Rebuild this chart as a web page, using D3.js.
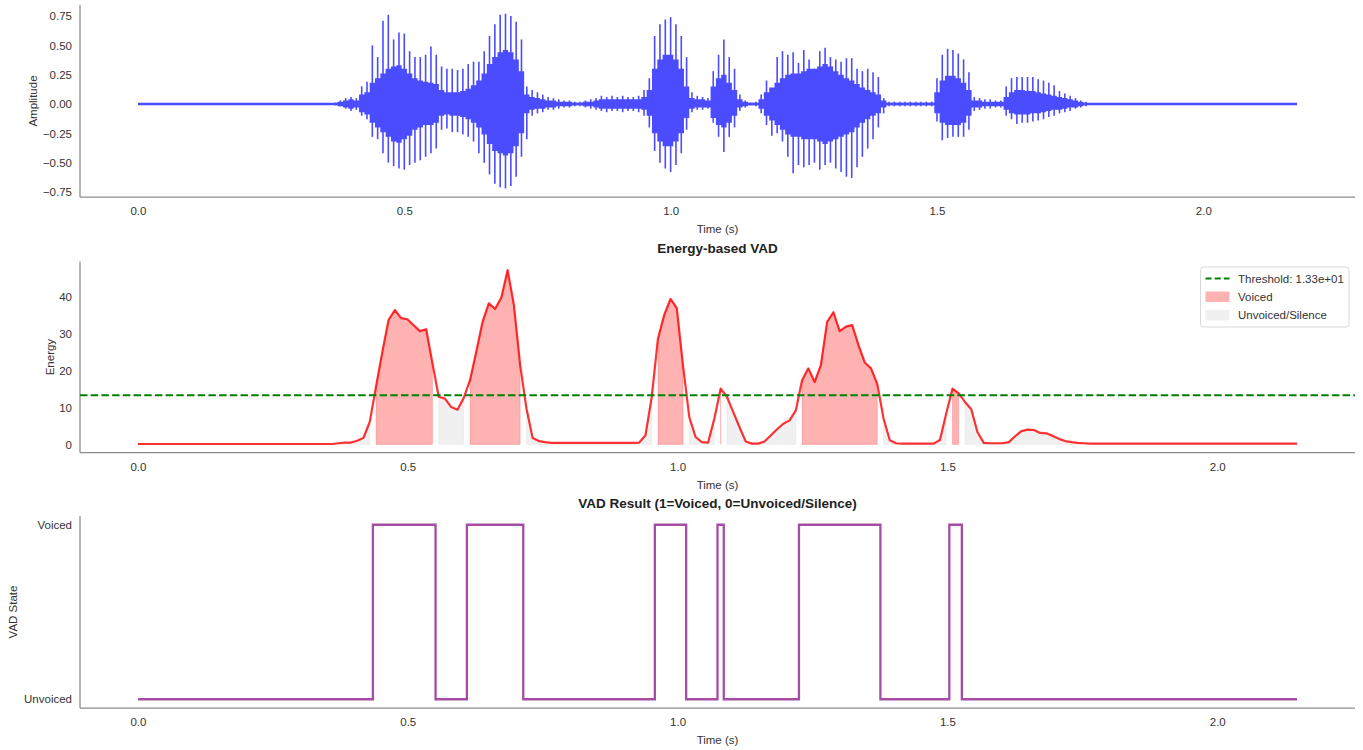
<!DOCTYPE html>
<html><head><meta charset="utf-8">
<script src="https://cdn.jsdelivr.net/npm/d3@7"></script>
<style>
body{margin:0;background:#fff;}
svg text{font-family:"Liberation Sans",Arial,sans-serif;}
</style></head><body>
<svg id="chart" width="1363" height="750"></svg>
<script>
// ---- signal: waveform envelope in 10 ms bins (speech portion) ----
const signalDuration = 2.176;
const waveStart = 0.37, waveStep = 0.01;
const wavePeakHi = [
 .01,.03,.05,.06,.05,.15,.19,.50,.40,.71,
 .76,.55,.61,.60,.45,.40,.40,.42,.49,.42,
 .32,.30,.30,.29,.30,.34,.36,.36,.45,.58,
 .68,.76,.77,.75,.70,.55,.15,.12,.10,.08,
 .06,.05,.04,.03,.03,.02,.02,.03,.04,.05,
 .07,.06,.07,.06,.07,.06,.06,.07,.12,.22,
 .58,.68,.72,.74,.68,.58,.40,.10,.07,.06,
 .05,.28,.42,.55,.40,.30,.08,.03,.01,.02,
 .08,.20,.12,.40,.45,.42,.44,.35,.46,.38,
 .30,.45,.48,.40,.38,.36,.39,.39,.30,.28,
 .30,.27,.23,.05,.02,.02,.02,.02,.02,.02,
 .02,.02,.02,.22,.42,.47,.46,.43,.38,.27,
 .06,.05,.04,.04,.03,.03,.15,.22,.23,.23,
 .23,.23,.21,.20,.18,.16,.11,.09,.07,.05,
 .03,.02];
const wavePeakLo = [
 -.01,-.02,-.04,-.06,-.05,-.10,-.13,-.28,-.30,-.42,
 -.50,-.53,-.55,-.56,-.52,-.50,-.48,-.45,-.42,-.38,
 -.22,-.21,-.24,-.24,-.26,-.28,-.32,-.42,-.50,-.60,
 -.68,-.71,-.72,-.70,-.62,-.45,-.30,-.10,-.08,-.07,
 -.05,-.05,-.04,-.03,-.03,-.02,-.02,-.03,-.04,-.05,
 -.06,-.07,-.06,-.06,-.07,-.06,-.06,-.07,-.10,-.20,
 -.40,-.50,-.55,-.58,-.52,-.42,-.22,-.07,-.05,-.05,
 -.04,-.16,-.28,-.41,-.28,-.20,-.06,-.03,-.01,-.02,
 -.08,-.18,-.27,-.25,-.32,-.45,-.59,-.52,-.54,-.52,
 -.50,-.56,-.52,-.50,-.55,-.58,-.62,-.63,-.54,-.45,
 -.38,-.30,-.20,-.08,-.02,-.02,-.02,-.02,-.02,-.02,
 -.02,-.02,-.02,-.15,-.31,-.29,-.28,-.28,-.28,-.22,
 -.06,-.05,-.04,-.04,-.03,-.03,-.10,-.13,-.17,-.16,
 -.16,-.15,-.14,-.13,-.11,-.10,-.08,-.07,-.06,-.04,
 -.03,-.02];
const waveCoreHi = [
 .01,.02,.03,.04,.03,.08,.10,.18,.22,.26,
 .30,.32,.33,.30,.26,.22,.20,.19,.18,.17,
 .12,.10,.10,.10,.11,.13,.16,.20,.26,.34,
 .40,.44,.46,.44,.38,.28,.08,.06,.05,.04,
 .03,.03,.02,.02,.02,.01,.01,.02,.02,.03,
 .04,.04,.04,.04,.04,.04,.04,.04,.06,.12,
 .30,.38,.42,.42,.38,.30,.15,.05,.04,.04,
 .03,.15,.22,.25,.18,.12,.04,.02,.01,.01,
 .04,.10,.14,.18,.22,.25,.26,.26,.28,.30,
 .30,.32,.34,.32,.28,.25,.22,.20,.17,.14,
 .12,.10,.08,.03,.01,.01,.01,.01,.01,.01,
 .01,.01,.01,.10,.20,.24,.24,.22,.18,.12,
 .03,.03,.02,.02,.02,.02,.06,.10,.12,.12,
 .11,.11,.10,.09,.08,.07,.06,.05,.04,.03,
 .02,.01];
const waveCoreLo = [
 -.01,-.02,-.03,-.04,-.03,-.07,-.09,-.16,-.20,-.24,
 -.28,-.32,-.33,-.30,-.27,-.22,-.20,-.18,-.18,-.16,
 -.10,-.09,-.10,-.10,-.11,-.13,-.16,-.20,-.26,-.34,
 -.40,-.42,-.44,-.42,-.36,-.25,-.08,-.05,-.04,-.04,
 -.03,-.03,-.02,-.02,-.02,-.01,-.01,-.02,-.02,-.03,
 -.04,-.04,-.04,-.04,-.04,-.04,-.04,-.04,-.05,-.10,
 -.25,-.32,-.36,-.36,-.32,-.25,-.12,-.04,-.03,-.03,
 -.03,-.12,-.18,-.20,-.16,-.10,-.03,-.02,-.01,-.01,
 -.04,-.10,-.14,-.18,-.22,-.26,-.28,-.28,-.30,-.30,
 -.30,-.32,-.34,-.32,-.30,-.28,-.26,-.24,-.20,-.16,
 -.13,-.10,-.08,-.03,-.01,-.01,-.01,-.01,-.01,-.01,
 -.01,-.01,-.01,-.08,-.16,-.18,-.18,-.18,-.16,-.10,
 -.03,-.03,-.02,-.02,-.02,-.02,-.05,-.08,-.09,-.09,
 -.09,-.08,-.08,-.07,-.06,-.05,-.05,-.04,-.03,-.03,
 -.02,-.01];

// ---- short-time energy per frame ----
const frameHop = 0.01161;
const energy = [
 0.1,0.1,0.1,0.1,0.1,0.1,0.1,0.1,0.1,0.1,
 0.1,0.1,0.1,0.1,0.1,0.1,0.1,0.1,0.1,0.1,
 0.1,0.1,0.1,0.1,0.1,0.1,0.1,0.1,0.1,0.1,
 0.1,0.1,0.3,0.5,0.5,1.0,1.8,6.1,15.7,25.0,
 33.7,36.4,34.2,33.9,32.3,30.7,31.2,22.0,12.9,12.4,
 10.1,9.4,12.6,17.4,25.1,33.2,38.2,36.7,39.8,47.2,
 37.8,21.5,9.8,1.7,0.9,0.6,0.4,0.4,0.4,0.4,
 0.4,0.4,0.4,0.4,0.4,0.4,0.4,0.4,0.4,0.4,
 0.5,2.4,12.8,28.7,35.1,39.4,36.9,21.2,7.4,2.0,
 0.6,0.5,7.0,15.1,12.9,8.8,4.7,0.8,0.2,0.2,
 0.8,2.4,4.1,5.6,6.5,9.2,17.4,20.6,16.9,21.5,
 33.2,35.8,30.7,31.9,32.3,26.9,22.2,20.6,16.4,7.0,
 1.1,0.3,0.2,0.2,0.2,0.2,0.2,0.2,1.2,8.3,
 15.1,13.8,11.5,9.5,3.3,0.4,0.3,0.3,0.3,0.6,
 2.2,3.6,4.0,3.9,3.1,3.0,2.3,1.5,0.9,0.6,
 0.4,0.3,0.2,0.2,0.2,0.2,0.2,0.2,0.2,0.2,
 0.2,0.2,0.2,0.2,0.2,0.2,0.2,0.2,0.2,0.2,
 0.2,0.2,0.2,0.2,0.2,0.2,0.2,0.2,0.2,0.2,
 0.2,0.2,0.2,0.2,0.2,0.2];
const threshold = 13.3;
// voiced frame ranges (inclusive)
const voicedSegments = [[38,47],[53,61],[83,87],[93,93],[106,118],[130,131]];

// ---- axis ticks ----
const timeTicks = [0.0, 0.5, 1.0, 1.5, 2.0];
const ampTicks = [-0.75, -0.5, -0.25, 0, 0.25, 0.5, 0.75];
const energyTicks = [0, 10, 20, 30, 40];
const vadTickLabels = ["Unvoiced", "Voiced"];

// ---- colours ----
const waveColor = "#0000ff";
const energyColor = "#ff0000";
const thresholdColor = "#008000";
const vadColor = "#800080";
const textColor = "#333333";
const spineColor = "#8c8c8c";

const svg = d3.select("#chart");
const L = 80, R = 1355;
const panels = {
  wave:   {top: 4.9,   bottom: 197.2},
  energy: {top: 261.5, bottom: 452.7},
  vad:    {top: 516,   bottom: 708}
};

function padded(lo, hi) { const r = hi - lo; return [lo - 0.05 * r, hi + 0.05 * r]; }

const times = energy.map((_, i) => i * frameHop);
const vad = energy.map((_, i) => voicedSegments.some(([a, b]) => i >= a && i <= b) ? 1 : 0);

const binTimes = wavePeakHi.map((_, i) => waveStart + i * waveStep);
const ampMin = d3.min(wavePeakLo), ampMax = d3.max(wavePeakHi);

const xWave = d3.scaleLinear().domain(padded(0, signalDuration)).range([L, R]);
const yWave = d3.scaleLinear().domain(padded(ampMin, ampMax)).range([panels.wave.bottom, panels.wave.top]);
const xFrm = d3.scaleLinear().domain(padded(0, times[times.length - 1])).range([L, R]);
const yEn = d3.scaleLinear().domain(padded(d3.min(energy), d3.max(energy))).range([panels.energy.bottom, panels.energy.top]);
const yVad = d3.scaleLinear().domain(padded(0, 1)).range([panels.vad.bottom, panels.vad.top]);

function drawFrame(p, x, y, yTickVals, yTickFmt) {
  // left and bottom spines only
  svg.append("line").attr("x1", L).attr("x2", L).attr("y1", p.top).attr("y2", p.bottom)
    .attr("stroke", spineColor).attr("stroke-width", 1.25);
  svg.append("line").attr("x1", L).attr("x2", R).attr("y1", p.bottom).attr("y2", p.bottom)
    .attr("stroke", spineColor).attr("stroke-width", 1.25);
  const xa = svg.append("g").attr("transform", `translate(0,${p.bottom})`)
    .call(d3.axisBottom(x).tickValues(timeTicks).tickFormat(d3.format(".1f")).tickSize(0).tickPadding(10));
  const ya = svg.append("g").attr("transform", `translate(${L},0)`)
    .call(d3.axisLeft(y).tickValues(yTickVals).tickFormat(yTickFmt).tickSize(0).tickPadding(8));
  [xa, ya].forEach(g => {
    g.select(".domain").remove();
    g.selectAll("text").attr("fill", textColor).style("font-size", "11.5px")
      .style("font-family", '"Liberation Sans", Arial, sans-serif');
  });
  svg.append("text").attr("x", (L + R) / 2).attr("y", p.bottom + 32)
    .attr("text-anchor", "middle").attr("dominant-baseline", "central")
    .attr("fill", textColor).style("font-size", "11.5px").text("Time (s)");
}

function yLabel(text, x, p) {
  svg.append("text").attr("transform", `translate(${x},${(p.top + p.bottom) / 2}) rotate(-90)`)
    .attr("text-anchor", "middle").attr("dominant-baseline", "central")
    .attr("fill", textColor).style("font-size", "11.5px").text(text);
}

function title(text, y) {
  svg.append("text").attr("x", (L + R) / 2).attr("y", y)
    .attr("text-anchor", "middle").attr("dominant-baseline", "central")
    .attr("fill", "#222").style("font-size", "13.5px").style("font-weight", "bold").text(text);
}

// ===== Panel 1: waveform =====
drawFrame(panels.wave, xWave, yWave, ampTicks, d => d3.format(".2f")(d).replace("-", "\u2212"));
yLabel("Amplitude", 33, panels.wave);

const wg = svg.append("g").attr("opacity", 0.7);
wg.append("line")
  .attr("x1", xWave(0)).attr("x2", xWave(signalDuration))
  .attr("y1", yWave(0)).attr("y2", yWave(0))
  .attr("stroke", waveColor).attr("stroke-width", 2.4);
// dense inner band of the signal
wg.append("path")
  .datum(binTimes.map((t, i) => ({t, lo: waveCoreLo[i], hi: waveCoreHi[i]})))
  .attr("fill", waveColor)
  .attr("d", d3.area().curve(d3.curveStep).x(d => xWave(d.t)).y0(d => yWave(d.lo)).y1(d => yWave(d.hi)));
// per-bin extremes (pitch pulses)
wg.selectAll("line.pulse")
  .data(binTimes.map((t, i) => ({t, lo: wavePeakLo[i], hi: wavePeakHi[i]})))
  .join("line").attr("class", "pulse")
  .attr("x1", d => xWave(d.t)).attr("x2", d => xWave(d.t))
  .attr("y1", d => yWave(d.lo)).attr("y2", d => yWave(d.hi))
  .attr("stroke", waveColor).attr("stroke-width", 1.6);

// ===== Panel 2: energy =====
drawFrame(panels.energy, xFrm, yEn, energyTicks, d3.format("d"));
yLabel("Energy", 50, panels.energy);
title("Energy-based VAD", 248);

// contiguous runs of equal VAD state
const runs = [];
vad.forEach((v, i) => {
  if (i === 0 || v !== vad[i - 1]) runs.push({state: v, a: i, b: i});
  else runs[runs.length - 1].b = i;
});
const area = d3.area().x(i => xFrm(times[i])).y0(yEn(0)).y1(i => yEn(energy[i]));
runs.forEach(r => {
  const idx = d3.range(r.a, r.b + 1);
  const fill = r.state ? "rgba(255,0,0,0.3)" : "rgba(128,128,128,0.12)";
  if (idx.length > 1) {
    svg.append("path").datum(idx).attr("d", area).attr("fill", fill)
      .attr("stroke", fill).attr("stroke-width", 0.6);
  } else {
    svg.append("line").attr("x1", xFrm(times[r.a])).attr("x2", xFrm(times[r.a]))
      .attr("y1", yEn(0)).attr("y2", yEn(energy[r.a])).attr("stroke", fill).attr("stroke-width", 1);
  }
});

svg.append("path").datum(energy)
  .attr("fill", "none").attr("stroke", energyColor).attr("stroke-opacity", 0.8)
  .attr("stroke-width", 2.2).attr("stroke-linejoin", "round")
  .attr("d", d3.line().x((d, i) => xFrm(times[i])).y(d => yEn(d)));

svg.append("line").attr("x1", L).attr("x2", R)
  .attr("y1", yEn(threshold)).attr("y2", yEn(threshold))
  .attr("stroke", thresholdColor).attr("stroke-width", 1.9).attr("stroke-dasharray", "7.5 3.2");

// legend
const lg = svg.append("g").attr("transform", "translate(1200.5,267)");
lg.append("rect").attr("width", 148.5).attr("height", 60).attr("rx", 3)
  .attr("fill", "#fff").attr("fill-opacity", 0.8).attr("stroke", "#d9d9d9").attr("stroke-width", 1);
lg.append("line").attr("x1", 5).attr("x2", 29).attr("y1", 11.5).attr("y2", 11.5)
  .attr("stroke", thresholdColor).attr("stroke-width", 1.9).attr("stroke-dasharray", "6 3.2");
lg.append("rect").attr("x", 5).attr("y", 24.5).attr("width", 24).attr("height", 10.5)
  .attr("fill", "rgba(255,0,0,0.3)");
lg.append("rect").attr("x", 5).attr("y", 43).attr("width", 24).attr("height", 10.5)
  .attr("fill", "rgba(128,128,128,0.12)");
[["Threshold: " + threshold.toExponential(2).replace("e+", "e+0"), 11.5],
 ["Voiced", 30], ["Unvoiced/Silence", 48.3]].forEach(([t, y]) => {
  lg.append("text").attr("x", 37.5).attr("y", y).attr("dominant-baseline", "central")
    .attr("fill", textColor).style("font-size", "11.5px").text(t);
});

// ===== Panel 3: VAD decision =====
drawFrame(panels.vad, xFrm, yVad, [0, 1], d => vadTickLabels[d]);
yLabel("VAD State", 13, panels.vad);
title("VAD Result (1=Voiced, 0=Unvoiced/Silence)", 503);

svg.append("path").datum(vad)
  .attr("fill", "none").attr("stroke", vadColor).attr("stroke-opacity", 0.7)
  .attr("stroke-width", 2.3)
  .attr("d", d3.line().curve(d3.curveStep).x((d, i) => xFrm(times[i])).y(d => yVad(d)));
</script>
</body></html>
